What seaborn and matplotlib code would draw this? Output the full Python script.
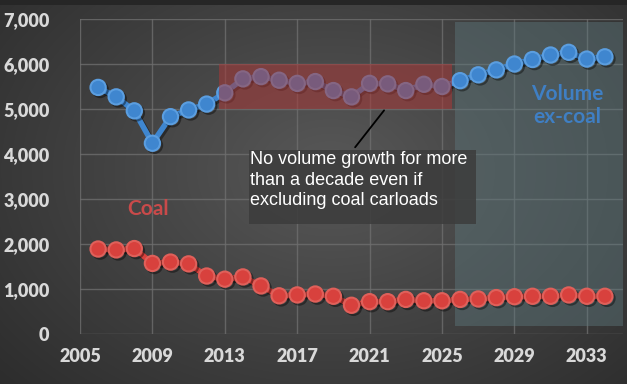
import numpy as np
import matplotlib
matplotlib.use("Agg")
import matplotlib.pyplot as plt
import seaborn as sns
import pandas as pd
from matplotlib.patches import Rectangle
import matplotlib.patheffects as pe

years = list(range(2006, 2035))
volume_ex_coal = [5480, 5270, 4960, 4240, 4830, 4980, 5110, 5360, 5670, 5720,
                  5640, 5570, 5610, 5410, 5270, 5570, 5560, 5410, 5550, 5500,
                  5630, 5760, 5870, 6000, 6100, 6200, 6260, 6110, 6160]
coal = [1890, 1870, 1900, 1570, 1600, 1560, 1290, 1220, 1270, 1070,
        850, 870, 890, 840, 640, 720, 720, 770, 740, 740,
        770, 780, 810, 830, 840, 840, 870, 840, 840]
x_ticks = [2005, 2009, 2013, 2017, 2021, 2025, 2029, 2033]
y_ticks = [0, 1000, 2000, 3000, 4000, 5000, 6000, 7000]

df = pd.DataFrame({"year": years, "volume": volume_ex_coal, "coal": coal})

sns.set_style("dark")
plt.rcParams['font.family'] = ['Lato', 'DejaVu Sans']

fig = plt.figure(figsize=(6.27, 3.84), dpi=100)

# dark radial background
bg = fig.add_axes([0, 0, 1, 1], zorder=0)
yy, xx = np.mgrid[0:384, 0:627]
r = np.sqrt(((xx - 330) / 420.0) ** 2 + ((yy - 170) / 300.0) ** 2)
shade = np.clip(0.345 - 0.16 * r, 0.17, 0.345)
img = np.dstack([shade, shade, shade])
img[:5, :, :] = 0.15
bg.imshow(img, aspect="auto", extent=[0, 1, 0, 1], origin="upper")
bg.axis("off")

ax = fig.add_axes([0.1276, 0.130, 0.8660, 0.8205], zorder=1)
ax.set_facecolor("none")

blue = "#3f86cf"
red = "#d8413d"

# shaded regions
ax.add_patch(Rectangle((2025.7, 180), 10, 6750, facecolor="#5d777c", alpha=0.45,
                       edgecolor="none", zorder=1))
ax.add_patch(Rectangle((2012.7, 5000), 12.85, 1000, facecolor="#a83838", alpha=0.55,
                       edgecolor="none", zorder=4))

shadow = [pe.SimpleLineShadow(offset=(1.5, -1.5), alpha=0.4), pe.Normal()]
sns.lineplot(data=df, x="year", y="volume", ax=ax, color=blue, lw=4,
             marker="o", markersize=11, markerfacecolor=blue,
             markeredgecolor="#5b9ee0", markeredgewidth=1.5, zorder=3,
             path_effects=shadow)
sns.lineplot(data=df, x="year", y="coal", ax=ax, color=red, lw=4,
             marker="o", markersize=11, markerfacecolor=red,
             markeredgecolor="#e0605a", markeredgewidth=1.5, zorder=3,
             path_effects=shadow)

ax.set_xlim(2005, 2035)
ax.set_ylim(0, 7000)
ax.set_xticks(x_ticks)
ax.set_yticks(y_ticks)
ax.set_yticklabels([f"{v:,}" for v in y_ticks])
ax.set_xlabel("")
ax.set_ylabel("")
ax.grid(True, color="#6e6e6e", lw=1, alpha=0.8)
ax.set_axisbelow(True)
for s in ax.spines.values():
    s.set_visible(False)
ax.tick_params(axis="both", colors="#d9d9d9", labelsize=13, length=0)
ax.tick_params(axis="y", pad=22)
ax.tick_params(axis="x", pad=10)
for lab in ax.get_xticklabels() + ax.get_yticklabels():
    lab.set_fontweight("heavy")

# annotation box
ax.add_patch(Rectangle((2014.35, 2440), 12.55, 1650, facecolor="#3c3c3c",
                       alpha=0.85, edgecolor="none", zorder=5))
ax.text(2014.4, 4060, "No volume growth for more\nthan a decade even if\nexcluding coal carloads",
        color="white", fontsize=13, family=["Liberation Sans"], va="top",
        ha="left", linespacing=1.25, zorder=6)
ax.plot([2021.8, 2020.2], [4970, 4150], color="black", lw=1.3, zorder=6)

ax.text(2008.75, 2780, "Coal", color="#c94a4a", fontsize=15, fontweight="bold",
        ha="center", va="center", zorder=6)
ax.text(2031.9, 5080, "Volume\nex-coal", color="#3f7fc4", fontsize=15,
        fontweight="bold", ha="center", va="center", linespacing=1.2, zorder=6)

fig.savefig("out.png", dpi=100)
